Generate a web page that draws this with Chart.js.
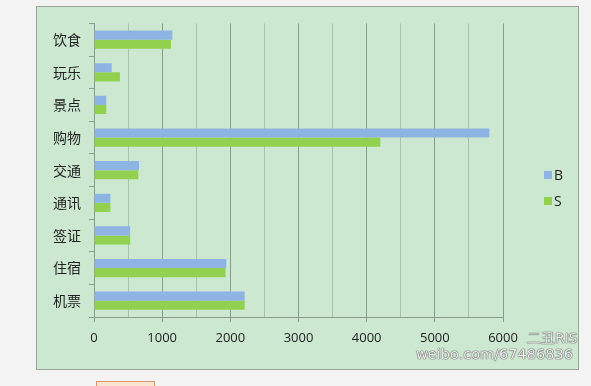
<!DOCTYPE html>
<html>
<head>
<meta charset="utf-8">
<script src="https://cdn.jsdelivr.net/npm/chart.js@4"></script>
<style>
    body { margin: 0; background: #f3f3f3; width: 591px; height: 386px; overflow: hidden; position: relative; }
    #box { position: absolute; left: 36px; top: 6px; width: 541px; height: 362px; background: #cde8d1; border: 1px solid #9aa59b; }
    #box canvas { position: absolute; left: 0; top: 0; }
    .mark { position: absolute; font-family: "DejaVu Sans", sans-serif; color: #eeeeee; text-shadow: 0 0 1px #555, 0 0 1px #555, 0 0 1px #555; }
    #tab { position: absolute; left: 96px; top: 381px; width: 57px; height: 10px; background: #fbe3d2; border: 1px solid #e0956a; }
</style>
</head>
<body>
<div id="box"><canvas id="chart" width="541" height="362"></canvas></div>
<div class="mark" style="left:527px; top:330px; font-size:14px;">二丑RIS</div>
<div class="mark" style="left:416px; top:346px; font-size:14.5px;">weibo.com/67486836</div>
<div id="tab"></div>
<script>
const categories = ["饮食", "玩乐", "景点", "购物", "交通", "通讯", "签证", "住宿", "机票"];
const valuesB = [1150, 260, 180, 5800, 660, 240, 530, 1940, 2210];
const valuesS = [1130, 380, 180, 4200, 650, 240, 530, 1930, 2210];
const xTicks = [0, 1000, 2000, 3000, 4000, 5000, 6000];

// legend drawn beside the plot, like the Excel one
const sideLegend = {
    id: "sideLegend",
    afterDraw(chart) {
        const ctx = chart.ctx;
        const x = chart.chartArea.right + 41;
        ctx.save();
        ctx.font = "14px 'Open Sans'";
        ctx.textBaseline = "middle";
        chart.data.datasets.forEach((ds, i) => {
            const y = 168 + i * 26;
            ctx.fillStyle = ds.backgroundColor;
            ctx.fillRect(x, y - 4, 8, 8);
            ctx.fillStyle = "#222";
            ctx.fillText(ds.label, x + 10, y + 1);
        });
        ctx.restore();
    }
};

function drawChart() {
    new Chart(document.getElementById("chart"), {
        type: "bar",
        data: {
            labels: categories,
            datasets: [{
                label: "B",
                data: valuesB,
                backgroundColor: "#8eb4e3",
                categoryPercentage: 0.56,
                barPercentage: 1
            }, {
                label: "S",
                data: valuesS,
                backgroundColor: "#92d050",
                categoryPercentage: 0.56,
                barPercentage: 1
            }]
        },
        options: {
            indexAxis: "y",
            responsive: false,
            animation: false,
            layout: { padding: { top: 15, right: 75 } },
            plugins: {
                tooltip: { enabled: false },
                legend: { display: false }
            },
            scales: {
                x: {
                    min: 0,
                    max: 6000,
                    afterFit: scale => { scale.height = 52; },
                    ticks: {
                        stepSize: 500,
                        padding: 8,
                        maxRotation: 0,
                        autoSkip: false,
                        color: "#222",
                        font: { family: "Open Sans", size: 13 },
                        callback: v => xTicks.includes(v) ? v : ""
                    },
                    grid: {
                        color: ctx => ctx.tick && ctx.tick.value % 1000 === 0 ? "#8a9a8c" : "#aac2ad",
                        tickColor: ctx => ctx.tick && ctx.tick.value % 1000 === 0 ? "#8a9a8c" : "rgba(0,0,0,0)",
                        tickLength: 5
                    },
                    border: { color: "#8a9a8c" }
                },
                y: {
                    afterFit: scale => { scale.width = 57; },
                    ticks: {
                        padding: 8,
                        color: "#222",
                        font: { family: "Noto Sans CJK SC", size: 14 }
                    },
                    grid: {
                        offset: true,
                        drawOnChartArea: false,
                        color: "#8a9a8c",
                        tickLength: 5
                    },
                    border: { color: "#8a9a8c" }
                }
            }
        },
        plugins: [sideLegend]
    });
}

document.addEventListener("DOMContentLoaded", drawChart);
</script>
</body>
</html>
